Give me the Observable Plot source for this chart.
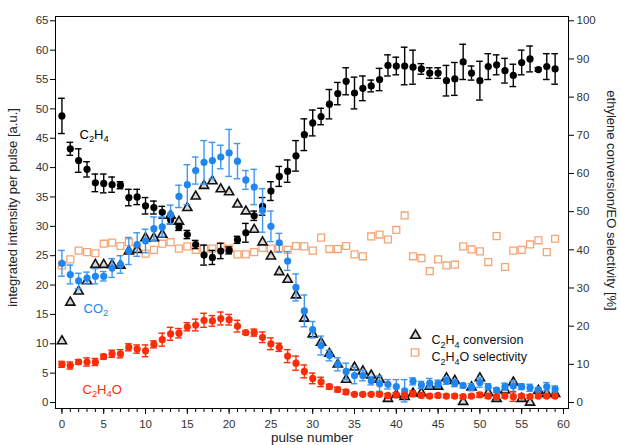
<!DOCTYPE html>
<html>
<head>
<meta charset="utf-8">
<script src="https://cdn.jsdelivr.net/npm/d3@7"></script>
<script src="https://cdn.jsdelivr.net/npm/@observablehq/plot@0.6"></script>
<style>
  html, body { margin: 0; padding: 0; background: #fff; }
  #chart { width: 620px; height: 445px; }
</style>
</head>
<body>
<div id="chart"></div>
<script>
// ---- data ----
const pulse = d3.range(0, 60);

const c2h4 = [48.8,43.2,41.2,39.7,37.4,37.3,37.1,37.0,34.9,35.0,
  33.5,33.2,32.4,31.1,29.9,28.6,26.9,25.1,24.7,25.8,
  25.9,27.7,28.9,31.8,33.4,36.0,38.5,39.4,42.0,45.6,
  47.6,48.7,50.8,52.6,54.7,52.7,53.5,53.9,55.0,57.4,
  57.3,57.3,57.1,56.8,56.1,56.1,54.8,55.1,58.0,56.1,
  54.8,57.2,57.5,56.5,55.7,57.9,58.5,56.7,57.2,56.8];
const c2h4Err = [3.0,1.1,2.0,1.3,1.5,1.6,1.3,0.6,1.4,1.3,
  1.4,1.1,1.0,0.7,0.6,0.7,0.7,1.7,1.2,1.3,
  0.6,0.6,1.6,0.8,1.5,1.6,1.7,1.9,2.6,2.7,
  2.2,1.4,2.5,1.9,2.3,2.7,2.1,1.0,1.9,1.8,
  1.5,3.2,2.9,0.9,0.9,0.9,2.6,2.8,3.0,1.2,
  3.3,2.2,1.7,2.1,1.9,2.1,2.2,0.3,2.2,2.6];

const co2 = [23.7,21.8,20.7,21.2,21.5,21.5,22.9,23.5,25.8,26.9,
  27.5,29.6,29.9,32.0,35.1,37.1,39.5,40.9,41.2,41.8,
  42.5,41.1,37.9,36.7,32.7,30.0,27.2,24.1,19.6,15.6,
  12.4,9.7,8.0,6.5,5.3,4.6,4.6,3.7,3.2,3.1,
  2.7,2.0,3.6,3.0,3.3,3.2,3.7,3.3,2.9,2.6,
  3.4,2.7,2.1,2.7,2.8,2.7,2.5,2.2,2.7,2.3];
const co2Err = [2.2,1.6,1.3,1.0,1.3,0.8,1.6,1.5,2.3,2.0,
  2.0,2.0,1.7,1.6,1.9,3.4,2.3,3.7,3.1,2.0,
  4.0,3.0,1.6,3.0,3.7,2.6,1.6,1.6,2.3,2.7,
  1.4,1.6,0.9,1.1,1.4,1.4,0.9,0.7,1.3,0.8,
  1.2,1.9,0.6,0.6,0.8,0.6,0.6,0.6,0.4,0.6,
  0.8,0.5,0.4,0.6,0.9,0.5,0.6,0.3,0.7,0.5];

const c2h4o = [6.5,6.3,6.9,6.9,6.9,7.8,8.3,8.3,9.4,9.1,
  8.8,9.9,10.7,11.7,11.8,12.9,13.2,14.0,13.9,14.3,
  14.1,13.0,11.9,11.9,11.1,10.0,9.4,7.9,6.7,5.3,
  4.1,3.5,2.7,2.2,1.8,1.4,1.4,1.4,1.4,1.2,
  1.3,1.2,1.5,1.2,1.1,1.2,1.1,1.1,1.0,1.1,
  1.3,1.1,1.0,1.1,1.0,1.1,1.0,1.1,1.1,1.1];
const c2h4oErr = [0.5,0.6,0.4,0.7,0.6,0.4,0.6,0.7,0.6,0.7,
  1.0,0.6,1.1,1.1,0.8,0.7,1.0,1.2,0.9,1.1,
  0.9,1.0,0.3,0.6,0.9,1.0,0.7,1.1,1.2,1.1,
  0.9,0.8,0.4,0.4,0.4,0.2,0.2,0.2,0.3,0.3,
  0.4,0.3,0.5,0.3,0.3,0.3,0.3,0.3,0.3,0.3,
  0.4,0.4,0.3,0.3,0.8,0.3,0.3,0.3,0.3,0.3];

// right axis (%)
const conversion = [16.1,26.2,29.1,31.8,36.1,36.1,36.1,35.9,39.6,40.0,
  43.1,43.1,44.0,49.0,47.4,51.0,54.0,56.8,58.0,55.9,
  55.1,51.9,50.1,45.3,42.0,38.3,34.2,32.2,28.1,22.0,
  17.9,15.7,12.8,10.0,6.0,9.2,8.2,7.1,6.0,1.0,
  2.0,1.5,2.4,2.5,4.2,4.2,6.4,5.7,0.2,4.0,
  6.4,2.5,1.0,3.2,5.3,1.0,0.0,3.1,2.3,2.3];
const selectivity = [35.9,37.5,39.8,39.4,39.1,41.6,41.9,41.0,42.0,40.3,
  39.0,40.0,41.6,42.0,40.3,40.9,40.0,40.3,40.3,40.9,
  40.3,38.8,38.8,39.4,40.5,40.3,40.5,40.0,41.0,40.9,
  39.8,43.2,40.2,40.2,41.0,38.8,38.3,43.5,44.0,42.7,
  45.2,49.0,38.3,37.8,34.4,37.5,35.9,36.1,40.9,40.1,
  39.6,36.8,43.6,35.5,39.8,40.0,41.4,42.5,39.4,42.9];

const leftTicks = d3.range(0, 66, 5);
const rightTicks = d3.range(0, 101, 10);
const xMajorTicks = d3.range(0, 61, 5);
const xMinorTicks = d3.range(0, 61, 1);

const leftLabel = "integrated intensity per pulse [a.u.]";
const rightLabel = "ethylene conversion/EO selectivity [%]";
const xLabel = "pulse number";

// ---- build ----
const K = 65 / 100; // right-axis % -> left-axis units
const rows = pulse.map((p, i) => ({
  x: p,
  c2h4: c2h4[i], c2h4Err: c2h4Err[i],
  co2: co2[i], co2Err: co2Err[i],
  c2h4o: c2h4o[i], c2h4oErr: c2h4oErr[i],
  conv: conversion[i] * K, sel: selectivity[i] * K
}));

const BLACK = "#000000", BLUE = "#1f86ef", BLUE_ERR = "#3f97f2", RED = "#fb2c08", ORANGE = "#f7a474";
const CAP = 0.4;

function errorBars(key, errKey, color) {
  return [
    Plot.ruleX(rows, {x: "x", y1: d => d[key] - d[errKey], y2: d => d[key] + d[errKey], stroke: color, strokeWidth: 1.4}),
    Plot.ruleY(rows, {y: d => d[key] + d[errKey], x1: d => d.x - CAP, x2: d => d.x + CAP, stroke: color, strokeWidth: 1.4}),
    Plot.ruleY(rows, {y: d => d[key] - d[errKey], x1: d => d.x - CAP, x2: d => d.x + CAP, stroke: color, strokeWidth: 1.4})
  ];
}

const chart = Plot.plot({
  width: 620,
  height: 445,
  marginLeft: 55,
  marginRight: 52,
  marginTop: 16,
  marginBottom: 37,
  style: {fontFamily: "'Liberation Sans', Arial, sans-serif", fontSize: "11.5px", background: "#fff", color: "#000"},
  x: {domain: [-0.77, 60.6]},
  y: {domain: [-1.02, 65.73]},
  marks: [
    Plot.frame({stroke: "#000", strokeWidth: 1}),
    Plot.axisY(leftTicks, {anchor: "left", tickSize: 5, tickPadding: 2, label: null, fill: "#333", stroke: "#000"}),
    Plot.axisY(rightTicks.map(v => v * K), {anchor: "right", tickSize: 5, tickPadding: 3, tickFormat: d => Math.round(d / K), label: null, fill: "#333", stroke: "#000"}),
    Plot.axisX(xMinorTicks, {tickSize: 4, tickFormat: () => "", label: null, stroke: "#000"}),
    Plot.axisX(xMajorTicks, {tickSize: 6, tickPadding: 5, label: null, fill: "#333", stroke: "#000"}),

    Plot.text([leftLabel], {text: d => d, frameAnchor: "left", textAnchor: "middle", dx: -43, dy: -5, rotate: -90, fontSize: 13, fill: "#222"}),
    Plot.text([rightLabel], {text: d => d, frameAnchor: "right", textAnchor: "middle", dx: 43, dy: -12, rotate: 90, fontSize: 13, fill: "#222"}),
    Plot.text([xLabel], {text: d => d, frameAnchor: "bottom", dy: 33, fontSize: 13.5, fill: "#222"}),

    // right-axis series
    Plot.dot(rows, {x: "x", y: "sel", symbol: "square", r: 3.9, stroke: ORANGE, strokeWidth: 1.3, fill: "none"}),
    Plot.dot(rows, {x: "x", y: "conv", symbol: "triangle", r: 3.4, stroke: "#111", strokeWidth: 1.6, fill: "#d9d9d9"}),

    // left-axis series
    ...errorBars("c2h4", "c2h4Err", BLACK),
    Plot.dot(rows, {x: "x", y: "c2h4", r: 3.6, fill: BLACK}),
    ...errorBars("co2", "co2Err", BLUE_ERR),
    Plot.dot(rows, {x: "x", y: "co2", r: 3.6, fill: BLUE}),
    ...errorBars("c2h4o", "c2h4oErr", RED),
    Plot.dot(rows, {x: "x", y: "c2h4o", r: 3.6, fill: RED}),

    // series annotations
    Plot.text(["C2H4"], {text: d => d, frameAnchor: "top-left", dx: 24, dy: 113, textAnchor: "start", fontSize: 13, fill: BLACK}),
    Plot.text(["CO2"], {text: d => d, frameAnchor: "top-left", dx: 28, dy: 287, textAnchor: "start", fontSize: 13, fill: BLUE}),
    Plot.text(["C2H4O"], {text: d => d, frameAnchor: "top-left", dx: 27, dy: 368, textAnchor: "start", fontSize: 13, fill: RED}),

    // legend
    Plot.dot([0], {frameAnchor: "top-left", dx: 360, dy: 319, symbol: "triangle", r: 3.6, stroke: "#111", strokeWidth: 1.6, fill: "#d9d9d9"}),
    Plot.dot([0], {frameAnchor: "top-left", dx: 359.5, dy: 336, symbol: "square", r: 4.2, stroke: ORANGE, strokeWidth: 1.3, fill: "none"}),
    Plot.text(["C2H4 conversion"], {text: d => d, frameAnchor: "top-left", dx: 376, dy: 319, textAnchor: "start", fontSize: 12.5, fill: "#111"}),
    Plot.text(["C2H4O selectivity"], {text: d => d, frameAnchor: "top-left", dx: 376, dy: 336, textAnchor: "start", fontSize: 12.5, fill: "#111"})
  ]
});

// chemical formulas: render digits after element letters as subscripts
const SVGNS = "http://www.w3.org/2000/svg";
chart.querySelectorAll("text").forEach(t => {
  const s = t.textContent;
  if (!/[A-Za-z]\d/.test(s)) return;
  const parts = s.match(/(\d+|[^\d]+)/g);
  while (t.firstChild) t.removeChild(t.firstChild);
  let shifted = false;
  parts.forEach(p => {
    const ts = document.createElementNS(SVGNS, "tspan");
    if (/^\d+$/.test(p)) {
      ts.setAttribute("dy", "3.5");
      ts.setAttribute("font-size", "72%");
      shifted = true;
    } else if (shifted) {
      ts.setAttribute("dy", "-3.5");
      shifted = false;
    }
    ts.textContent = p;
    t.appendChild(ts);
  });
});

document.getElementById("chart").appendChild(chart);
</script>
</body>
</html>
